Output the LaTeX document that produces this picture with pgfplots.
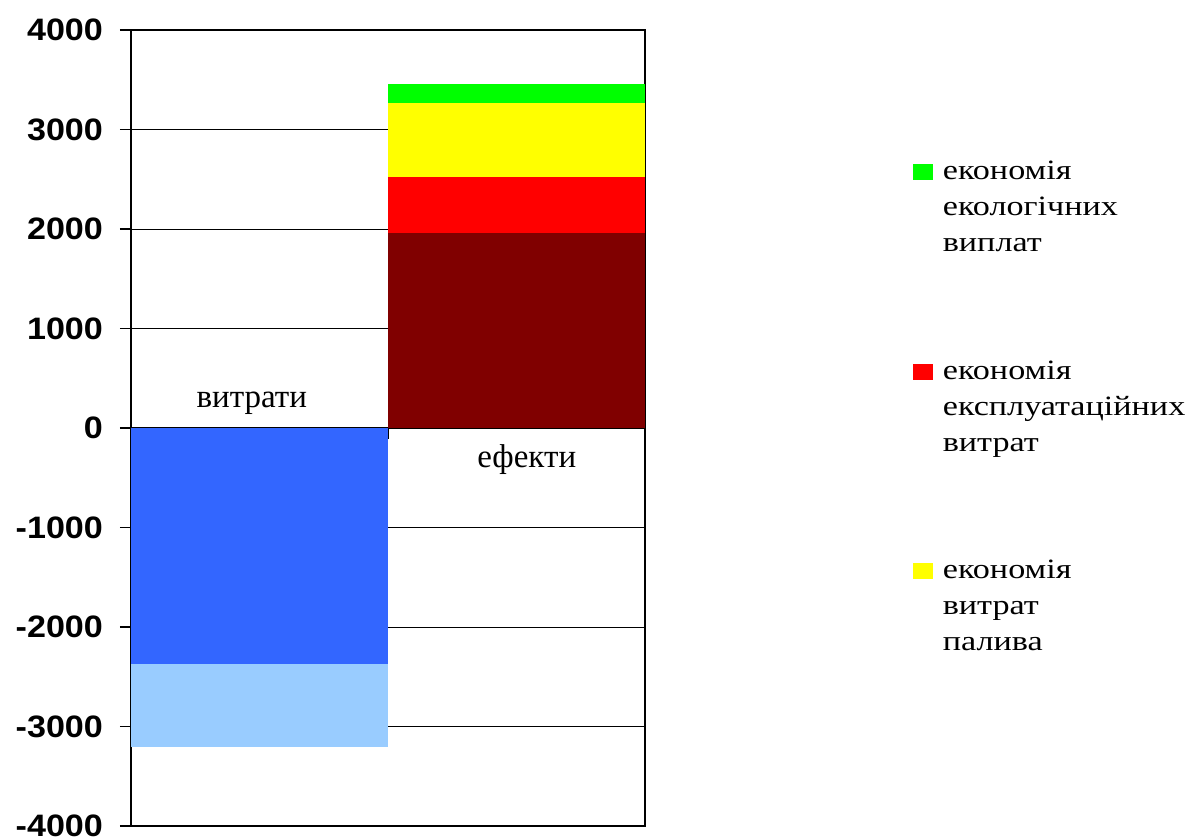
\documentclass[border=0pt]{standalone}
\usepackage{pgfplots}
\pgfplotsset{compat=1.18}
\usepackage{pgfplotstable}
\usepackage{fontspec}
\setmainfont{Liberation Serif}
\newfontfamily\tickfont[FakeStretch=1.1]{Liberation Sans}
\newfontfamily\legfont[FakeStretch=1.22]{Liberation Serif}

\definecolor{cblue}{HTML}{3366FF}
\definecolor{clblue}{HTML}{99CCFF}
\definecolor{cdred}{HTML}{800000}
\definecolor{cred}{HTML}{FF0000}
\definecolor{cyellow}{HTML}{FFFF00}
\definecolor{cgreen}{HTML}{00FF00}

% витрати / ефекти
\pgfplotstableread{
x blue lblue dred red yellow green
0 -2370 -840 0 0 0 0
1 0 0 1958 563 742 192
}\data

\begin{document}
\begin{tikzpicture}
\path[use as bounding box] (-65.5pt,-5pt) rectangle (528pt,413pt);
\begin{axis}[
  scale only axis, width=257pt, height=398pt,
  xmin=-0.5, xmax=1.5, ymin=-4000, ymax=4000,
  xtick=\empty,
  ytick={-4000,-3000,...,4000}, ytick pos=left,
  ymajorgrids, grid style={black, line width=0.5pt},
  axis line style={black, line width=1.3pt},
  tick align=outside, major tick length=5.5pt,
  ytick style={black, line width=0.6pt},
  yticklabel style={font=\tickfont\bfseries\fontsize{15.5}{16}\selectfont, xshift=-5pt},
  /pgf/number format/.cd, 1000 sep={}, assume math mode=true, /pgfplots/.cd,
  ybar stacked, bar width=1,
  legend style={draw=none, at={(1.509,0.846)}, anchor=north west,
    font=\legfont\fontsize{14}{18}\selectfont,
    nodes={align=left, inner ysep=2pt, inner xsep=5pt}, row sep=49pt},
  legend cell align=left,
]
\addlegendimage{legend image code/.code={\fill[cgreen] (0pt,14pt) rectangle (9.5pt,21.5pt);}}
\addlegendentry{економія\\екологічних\\виплат}
\addlegendimage{legend image code/.code={\fill[cred] (0pt,14pt) rectangle (9.5pt,21.5pt);}}
\addlegendentry{економія\\експлуатаційних\\витрат}
\addlegendimage{legend image code/.code={\fill[cyellow] (0pt,14pt) rectangle (9.5pt,21.5pt);}}
\addlegendentry{економія\\витрат\\палива}

\addplot[fill=cblue, draw=none, forget plot] table[x=x, y=blue] {\data};
\addplot[fill=clblue, draw=none, forget plot] table[x=x, y=lblue] {\data};
\addplot[fill=cdred, draw=none, forget plot] table[x=x, y=dred] {\data};
\addplot[fill=cred, draw=none, forget plot] table[x=x, y=red] {\data};
\addplot[fill=cyellow, draw=none, forget plot] table[x=x, y=yellow] {\data};
\addplot[fill=cgreen, draw=none, forget plot] table[x=x, y=green] {\data};

\draw[black, line width=0.6pt] (axis cs:-0.5,0) -- (axis cs:1.5,0);
\draw[black, line width=0.6pt] (axis cs:0.5,0) -- ([yshift=-5.5pt]axis cs:0.5,0);
\node[anchor=base, font=\fontsize{16.5}{18}\selectfont] at (axis cs:-0.03,204) {витрати};
\node[anchor=base, font=\fontsize{16.5}{18}\selectfont] at (axis cs:1.04,-400) {ефекти};
\end{axis}
\end{tikzpicture}
\end{document}
